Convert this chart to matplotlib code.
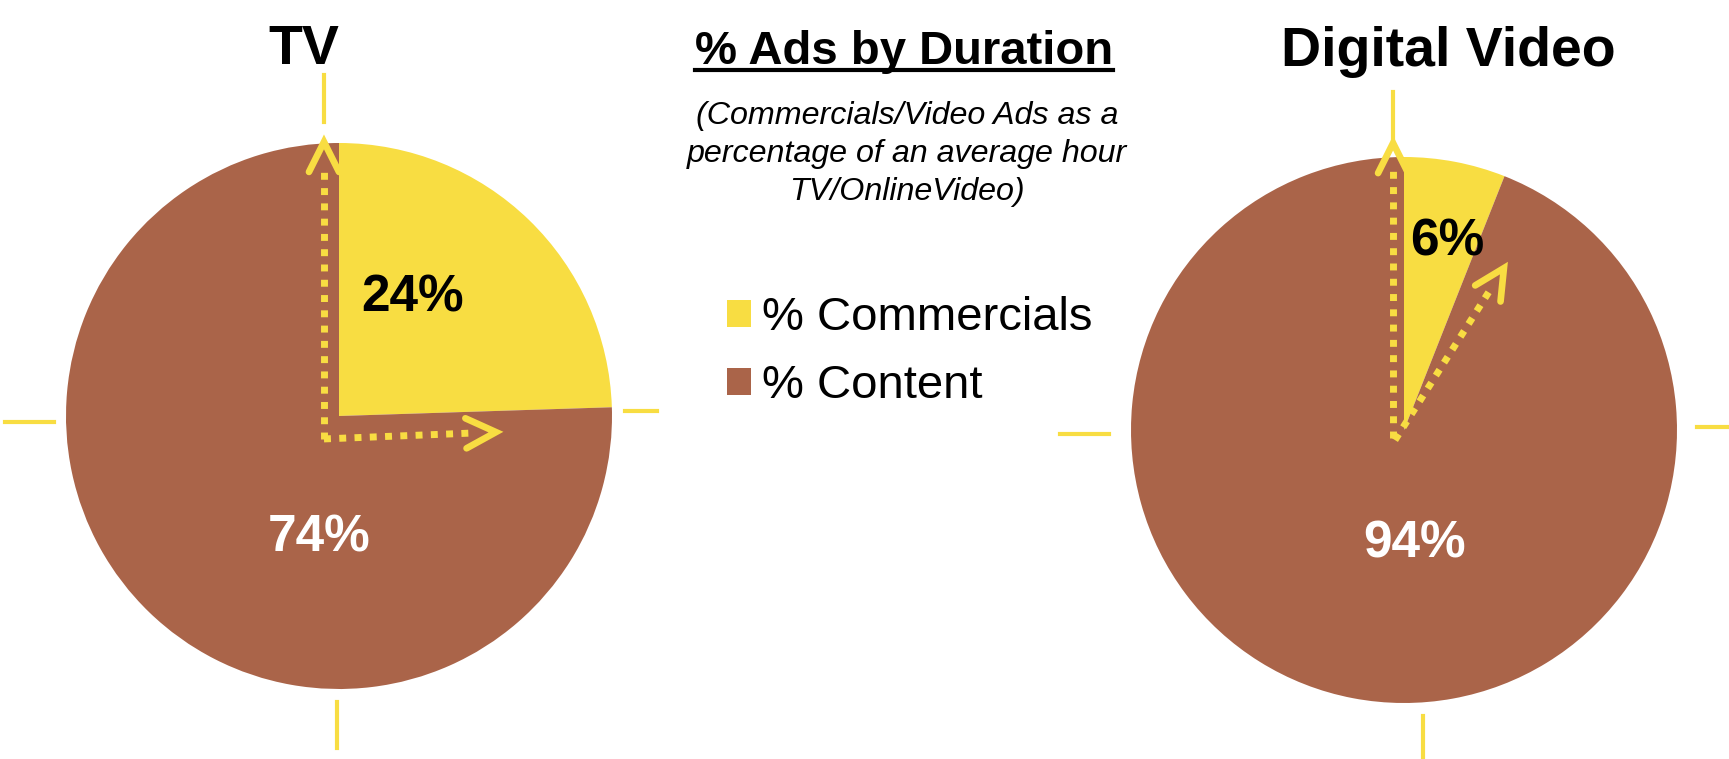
import numpy as np
import matplotlib
matplotlib.use("Agg")
import matplotlib.pyplot as plt

plt.rcParams["font.family"] = ["Liberation Sans", "DejaVu Sans"]

# data
charts = ["TV", "Digital Video"]
commercials = [24, 6]
content = [74, 94]
legend_labels = ["% Commercials", "% Content"]

YELLOW = "#F8DD42"
BROWN = "#AA6449"

W, H = 1729, 759
fig = plt.figure(figsize=(W / 100, H / 100), dpi=100)

R = 273          # pie radius in px
HALF = 1.4       # axes half-size in pie units


def pie_axes(cx, cy):
    # cx, cy: pie centre in px from top-left
    half = HALF * R
    ax = fig.add_axes([(cx - half) / W, (H - cy - half) / H, 2 * half / W, 2 * half / H])
    return ax


def arrow(ax, start, tip, head=0.11, wing=0.055):
    x0, y0 = start
    x1, y1 = tip
    d = np.array([x1 - x0, y1 - y0])
    d = d / np.hypot(*d)
    n = np.array([-d[1], d[0]])
    end = np.array(tip) - d * 0.1
    ax.plot([x0, end[0]], [y0, end[1]], color=YELLOW, lw=5,
            linestyle=(0, (1, 1.2)), solid_capstyle="butt", clip_on=False, zorder=4)
    w1 = np.array(tip) - d * head + n * wing
    w2 = np.array(tip) - d * head - n * wing
    ax.plot([w1[0], tip[0], w2[0]], [w1[1], tip[1], w2[1]], color=YELLOW, lw=4.8,
            solid_capstyle="round", solid_joinstyle="miter", clip_on=False, zorder=5)


def crosshair(ax, marks):
    for (xa, ya), (xb, yb) in marks:
        ax.plot([xa, xb], [ya, yb], color=YELLOW, lw=3, clip_on=False, zorder=1)


# TV pie
ax1 = pie_axes(339, 416)
wedges, _ = ax1.pie([commercials[0], content[0]], colors=[YELLOW, BROWN],
                    startangle=90, counterclock=False, radius=1)
ax1.set_xlim(-HALF, HALF)
ax1.set_ylim(-HALF, HALF)
ax1.set_aspect("auto")
ax1.text(-0.13, 1.29, charts[0], ha="center", va="baseline", fontsize=40, fontweight="bold")
ax1.text(0.271, 0.432, f"{commercials[0]}%", ha="center", va="center",
         fontsize=37, fontweight="bold", color="black", zorder=6)
ax1.text(-0.073, -0.447, f"{content[0]}%", ha="center", va="center",
         fontsize=37, fontweight="bold", color="white", zorder=6)
arrow(ax1, (-0.055, -0.084), (-0.055, 1.004))
arrow(ax1, (-0.055, -0.084), (0.575, -0.059))
crosshair(ax1, [((-0.055, 1.249), (-0.055, 1.077)),
                ((-1.223, -0.022), (-1.044, -0.022)),
                ((1.048, 0.018), (1.165, 0.018)),
                ((-0.007, -1.048), (-0.007, -1.216))])

# Digital video pie
ax2 = pie_axes(1404, 430)
ax2.pie([commercials[1], content[1]], colors=[YELLOW, BROWN],
        startangle=90, counterclock=False, radius=1)
ax2.set_xlim(-HALF, HALF)
ax2.set_ylim(-HALF, HALF)
ax2.set_aspect("auto")
ax2.text(0.161, 1.335, charts[1], ha="center", va="baseline", fontsize=40, fontweight="bold")
ax2.text(0.158, 0.69, f"{commercials[1]}%", ha="center", va="center",
         fontsize=37, fontweight="bold", color="black", zorder=6)
ax2.text(0.04, -0.418, f"{content[1]}%", ha="center", va="center",
         fontsize=37, fontweight="bold", color="white", zorder=6)
arrow(ax2, (-0.040, -0.03), (-0.040, 1.051))
arrow(ax2, (-0.033, -0.037), (0.366, 0.593))
crosshair(ax2, [((-0.040, 1.238), (-0.040, 1.066)),
                ((-1.26, -0.015), (-1.08, -0.015)),
                ((1.073, 0.011), (1.19, 0.011)),
                ((0.07, -1.048), (0.07, -1.205))])

# centre title, subtitle, legend
title = fig.text(904 / W, 1 - 64 / H, "% Ads by Duration", ha="center", va="baseline",
                 fontsize=34, fontweight="bold")
sub_lines = ["(Commercials/Video Ads as a", "percentage of an average hour", "TV/OnlineVideo)"]
for line, base in zip(sub_lines, [124, 162, 200]):
    fig.text(907 / W, 1 - base / H, line, ha="center", va="baseline",
             fontsize=23.2, style="italic")

fig.canvas.draw()
bb = title.get_window_extent()
fig.add_artist(plt.Line2D([bb.x0 / W, bb.x1 / W], [1 - 70 / H, 1 - 70 / H],
                          color="black", lw=3, transform=fig.transFigure))

fig.legend(wedges, legend_labels, loc="center left",
           bbox_to_anchor=(727 / W, 1 - 352 / H), borderaxespad=0, borderpad=0,
           handlelength=0.5, handleheight=0.5, handletextpad=0.25, labelspacing=0.5,
           frameon=False, fontsize=34)

fig.savefig("out.png", dpi=100)
